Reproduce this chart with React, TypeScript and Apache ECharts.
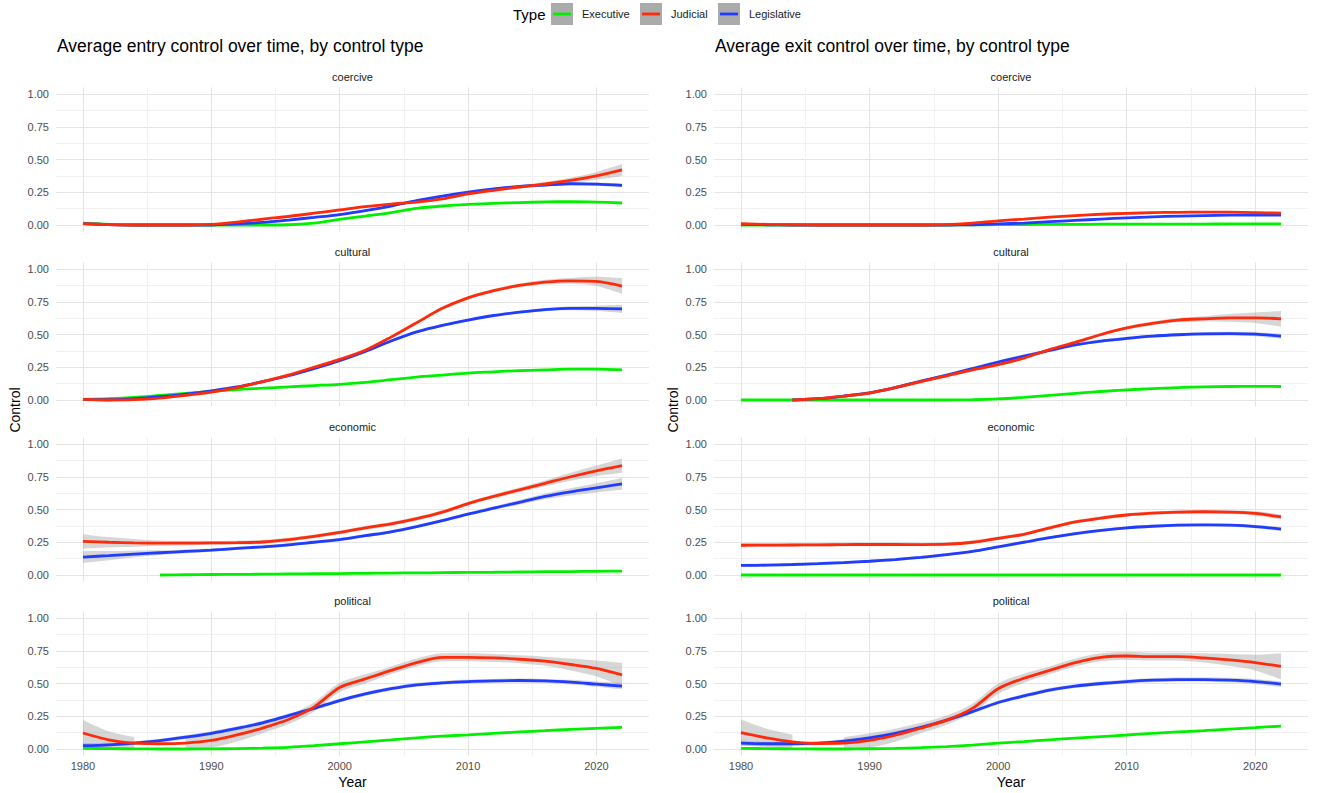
import React, { useEffect, useRef } from "react";
import * as echarts from "echarts";

// ---------------- DATA ----------------
const YEARS = [1980, 1982, 1984, 1986, 1988, 1990, 1992, 1994, 1996, 1998, 2000, 2002, 2004, 2006, 2008, 2010, 2012, 2014, 2016, 2018, 2020, 2022];
const TYPES = ["Executive", "Judicial", "Legislative"];
const FACETS = ["coercive", "cultural", "economic", "political"];
const TITLES = ["Average entry control over time, by control type", "Average exit control over time, by control type"];
const Y_LABELS = [0, 0.25, 0.5, 0.75, 1];
const Y_GRID = [0, 0.125, 0.25, 0.375, 0.5, 0.625, 0.75, 0.875, 1];
const X_LABELS = [1980, 1990, 2000, 2010, 2020];
const X_GRID = [1980, 1985, 1990, 1995, 2000, 2005, 2010, 2015, 2020];

// entry - coercive
const entryCoerciveExecutive = [0.015, 0.005, 0, 0, 0, 0, 0, 0, 0.002, 0.015, 0.043, 0.068, 0.095, 0.127, 0.145, 0.157, 0.165, 0.171, 0.176, 0.178, 0.175, 0.168];
const entryCoerciveJudicial = [0.01, 0.003, 0, 0, 0, 0.005, 0.022, 0.045, 0.065, 0.09, 0.115, 0.14, 0.16, 0.175, 0.2, 0.237, 0.265, 0.29, 0.313, 0.34, 0.375, 0.42];
const entryCoerciveLegislative = [0.01, 0.003, 0, 0, 0, 0, 0.008, 0.02, 0.038, 0.058, 0.08, 0.11, 0.145, 0.186, 0.22, 0.25, 0.275, 0.295, 0.305, 0.315, 0.312, 0.303];
const entryCoerciveExecutiveSe = [0.004, 0.004, 0.004, 0.004, 0.004, 0.004, 0.004, 0.004, 0.004, 0.004, 0.004, 0.004, 0.004, 0.004, 0.004, 0.004, 0.004, 0.004, 0.004, 0.004, 0.005, 0.006];
const entryCoerciveJudicialSe = [0.01, 0.008, 0.008, 0.008, 0.008, 0.008, 0.008, 0.008, 0.008, 0.008, 0.008, 0.008, 0.008, 0.008, 0.008, 0.009, 0.01, 0.012, 0.015, 0.02, 0.03, 0.045];
const entryCoerciveLegislativeSe = [0.01, 0.008, 0.008, 0.008, 0.008, 0.008, 0.008, 0.008, 0.008, 0.008, 0.008, 0.008, 0.008, 0.008, 0.008, 0.008, 0.008, 0.009, 0.01, 0.011, 0.012, 0.015];

// entry - cultural
const entryCulturalExecutive = [0.005, 0.01, 0.02, 0.035, 0.05, 0.065, 0.08, 0.09, 0.1, 0.11, 0.12, 0.135, 0.155, 0.175, 0.19, 0.205, 0.215, 0.225, 0.23, 0.235, 0.235, 0.23];
const entryCulturalJudicial = [0.005, 0, 0.003, 0.015, 0.035, 0.06, 0.095, 0.14, 0.19, 0.25, 0.31, 0.38, 0.48, 0.59, 0.7, 0.78, 0.835, 0.875, 0.9, 0.91, 0.905, 0.87];
const entryCulturalLegislative = [0.005, 0.002, 0.01, 0.025, 0.045, 0.07, 0.1, 0.14, 0.185, 0.24, 0.3, 0.37, 0.45, 0.52, 0.57, 0.61, 0.645, 0.67, 0.69, 0.7, 0.7, 0.695];
const entryCulturalExecutiveSe = [0.005, 0.005, 0.005, 0.005, 0.005, 0.005, 0.005, 0.005, 0.005, 0.005, 0.005, 0.005, 0.005, 0.005, 0.005, 0.005, 0.005, 0.005, 0.005, 0.006, 0.007, 0.009];
const entryCulturalJudicialSe = [0.01, 0.01, 0.01, 0.01, 0.01, 0.01, 0.01, 0.01, 0.01, 0.01, 0.01, 0.01, 0.01, 0.01, 0.012, 0.012, 0.012, 0.015, 0.018, 0.022, 0.035, 0.06];
const entryCulturalLegislativeSe = [0.01, 0.01, 0.01, 0.01, 0.01, 0.01, 0.01, 0.01, 0.01, 0.01, 0.01, 0.01, 0.01, 0.01, 0.01, 0.01, 0.01, 0.01, 0.012, 0.015, 0.02, 0.03];

// entry - economic
const entryEconomicExecutive = [null, null, null, 0, 0.002, 0.004, 0.005, 0.006, 0.008, 0.01, 0.011, 0.013, 0.015, 0.016, 0.018, 0.02, 0.021, 0.023, 0.025, 0.026, 0.028, 0.03];
const entryEconomicJudicial = [0.257, 0.25, 0.245, 0.243, 0.243, 0.245, 0.247, 0.252, 0.27, 0.295, 0.325, 0.36, 0.39, 0.43, 0.48, 0.545, 0.6, 0.65, 0.7, 0.75, 0.795, 0.835];
const entryEconomicLegislative = [0.137, 0.148, 0.16, 0.17, 0.18, 0.19, 0.203, 0.215, 0.23, 0.25, 0.27, 0.3, 0.33, 0.37, 0.415, 0.465, 0.51, 0.555, 0.6, 0.635, 0.665, 0.695];
const entryEconomicExecutiveSe = [0.003, 0.003, 0.003, 0.003, 0.003, 0.003, 0.003, 0.003, 0.003, 0.003, 0.003, 0.003, 0.003, 0.003, 0.003, 0.003, 0.003, 0.003, 0.003, 0.003, 0.003, 0.004];
const entryEconomicJudicialSe = [0.055, 0.04, 0.03, 0.02, 0.018, 0.015, 0.015, 0.015, 0.015, 0.015, 0.015, 0.015, 0.015, 0.015, 0.015, 0.015, 0.015, 0.018, 0.022, 0.03, 0.04, 0.055];
const entryEconomicLegislativeSe = [0.045, 0.035, 0.025, 0.018, 0.014, 0.012, 0.012, 0.012, 0.012, 0.012, 0.012, 0.012, 0.012, 0.012, 0.012, 0.012, 0.014, 0.018, 0.022, 0.028, 0.035, 0.045];

// entry - political
const entryPoliticalExecutive = [0.005, 0.003, 0.001, 0, 0, 0.001, 0.003, 0.007, 0.013, 0.025, 0.04, 0.055, 0.07, 0.085, 0.098, 0.108, 0.12, 0.13, 0.14, 0.15, 0.158, 0.165];
const entryPoliticalJudicial = [0.122, 0.07, 0.045, 0.04, 0.045, 0.065, 0.107, 0.16, 0.225, 0.32, 0.47, 0.535, 0.6, 0.66, 0.7, 0.7, 0.695, 0.685, 0.67, 0.645, 0.615, 0.566];
const entryPoliticalLegislative = [0.025, 0.032, 0.045, 0.064, 0.09, 0.12, 0.158, 0.2, 0.255, 0.31, 0.37, 0.42, 0.46, 0.49, 0.505, 0.515, 0.52, 0.523, 0.52, 0.51, 0.495, 0.48];
const entryPoliticalExecutiveSe = [0.004, 0.004, 0.004, 0.004, 0.004, 0.004, 0.004, 0.004, 0.004, 0.004, 0.004, 0.004, 0.004, 0.004, 0.004, 0.004, 0.004, 0.004, 0.004, 0.005, 0.006, 0.007];
const entryPoliticalJudicialSe = [0.1, 0.065, 0.045, 0.05, 0.045, 0.055, 0.05, 0.04, 0.035, 0.035, 0.035, 0.035, 0.03, 0.03, 0.03, 0.03, 0.03, 0.03, 0.035, 0.045, 0.06, 0.09];
const entryPoliticalLegislativeSe = [0.02, 0.015, 0.015, 0.015, 0.015, 0.015, 0.015, 0.015, 0.015, 0.015, 0.015, 0.015, 0.015, 0.015, 0.015, 0.015, 0.015, 0.015, 0.015, 0.018, 0.02, 0.025];

// exit - coercive
const exitCoerciveExecutive = [0, 0, 0, 0, 0, 0, 0, 0, 0, 0.001, 0.003, 0.004, 0.005, 0.005, 0.006, 0.006, 0.007, 0.007, 0.007, 0.008, 0.008, 0.008];
const exitCoerciveJudicial = [0.01, 0.005, 0.002, 0, 0, 0, 0, 0, 0.003, 0.015, 0.032, 0.045, 0.06, 0.072, 0.082, 0.089, 0.094, 0.097, 0.099, 0.098, 0.095, 0.09];
const exitCoerciveLegislative = [0.005, 0.002, 0, 0, 0, 0, 0, 0, 0, 0.002, 0.008, 0.015, 0.025, 0.035, 0.045, 0.055, 0.062, 0.068, 0.072, 0.075, 0.076, 0.075];
const exitCoerciveExecutiveSe = [0.002, 0.002, 0.002, 0.002, 0.002, 0.002, 0.002, 0.002, 0.002, 0.002, 0.002, 0.002, 0.002, 0.002, 0.002, 0.002, 0.002, 0.002, 0.002, 0.002, 0.002, 0.002];
const exitCoerciveJudicialSe = [0.006, 0.006, 0.006, 0.006, 0.006, 0.006, 0.006, 0.006, 0.006, 0.006, 0.006, 0.006, 0.006, 0.006, 0.006, 0.006, 0.006, 0.006, 0.006, 0.006, 0.007, 0.009];
const exitCoerciveLegislativeSe = [0.005, 0.005, 0.005, 0.005, 0.005, 0.005, 0.005, 0.005, 0.005, 0.005, 0.005, 0.005, 0.005, 0.005, 0.005, 0.005, 0.005, 0.005, 0.005, 0.005, 0.006, 0.007];

// exit - cultural
const exitCulturalExecutive = [0, 0, 0, 0, 0, 0, 0, 0, 0, 0.002, 0.008, 0.02, 0.035, 0.05, 0.065, 0.077, 0.087, 0.095, 0.1, 0.103, 0.104, 0.103];
const exitCulturalJudicial = [null, null, 0, 0.01, 0.03, 0.053, 0.095, 0.14, 0.185, 0.23, 0.27, 0.32, 0.385, 0.44, 0.5, 0.55, 0.585, 0.61, 0.62, 0.627, 0.627, 0.62];
const exitCulturalLegislative = [null, null, 0, 0.01, 0.03, 0.055, 0.095, 0.145, 0.19, 0.24, 0.29, 0.335, 0.378, 0.42, 0.45, 0.47, 0.487, 0.498, 0.505, 0.507, 0.503, 0.487];
const exitCulturalExecutiveSe = [0.003, 0.003, 0.003, 0.003, 0.003, 0.003, 0.003, 0.003, 0.003, 0.003, 0.003, 0.003, 0.003, 0.003, 0.003, 0.003, 0.003, 0.003, 0.003, 0.003, 0.004, 0.005];
const exitCulturalJudicialSe = [0.012, 0.012, 0.012, 0.012, 0.012, 0.012, 0.012, 0.012, 0.012, 0.012, 0.012, 0.012, 0.012, 0.012, 0.012, 0.012, 0.014, 0.016, 0.02, 0.03, 0.04, 0.06];
const exitCulturalLegislativeSe = [0.012, 0.012, 0.012, 0.012, 0.012, 0.012, 0.012, 0.012, 0.012, 0.012, 0.012, 0.012, 0.012, 0.012, 0.012, 0.012, 0.012, 0.012, 0.012, 0.014, 0.016, 0.02];

// exit - economic
const exitEconomicExecutive = [0, 0, 0, 0, 0, 0, 0, 0, 0, 0, 0, 0, 0, 0, 0, 0, 0, 0, 0, 0, 0, 0];
const exitEconomicJudicial = [0.227, 0.228, 0.229, 0.23, 0.232, 0.233, 0.233, 0.232, 0.235, 0.25, 0.28, 0.31, 0.36, 0.405, 0.435, 0.458, 0.472, 0.48, 0.483, 0.48, 0.47, 0.443];
const exitEconomicLegislative = [0.073, 0.075, 0.08, 0.087, 0.095, 0.105, 0.118, 0.135, 0.155, 0.18, 0.215, 0.25, 0.285, 0.315, 0.34, 0.36, 0.372, 0.38, 0.383, 0.38, 0.37, 0.35];
const exitEconomicExecutiveSe = [0.001, 0.001, 0.001, 0.001, 0.001, 0.001, 0.001, 0.001, 0.001, 0.001, 0.001, 0.001, 0.001, 0.001, 0.001, 0.001, 0.001, 0.001, 0.001, 0.001, 0.001, 0.001];
const exitEconomicJudicialSe = [0.016, 0.014, 0.013, 0.013, 0.013, 0.013, 0.013, 0.013, 0.013, 0.013, 0.013, 0.013, 0.013, 0.013, 0.013, 0.013, 0.013, 0.013, 0.013, 0.014, 0.016, 0.02];
const exitEconomicLegislativeSe = [0.012, 0.011, 0.011, 0.011, 0.011, 0.011, 0.011, 0.011, 0.011, 0.011, 0.011, 0.011, 0.011, 0.011, 0.011, 0.011, 0.011, 0.011, 0.011, 0.012, 0.013, 0.016];

// exit - political
const exitPoliticalExecutive = [0.005, 0.003, 0.001, 0, 0, 0.002, 0.005, 0.01, 0.018, 0.03, 0.045, 0.057, 0.07, 0.083, 0.095, 0.107, 0.12, 0.13, 0.14, 0.152, 0.163, 0.175];
const exitPoliticalJudicial = [0.125, 0.085, 0.055, 0.042, 0.045, 0.065, 0.105, 0.16, 0.22, 0.31, 0.46, 0.54, 0.6, 0.66, 0.7, 0.71, 0.705, 0.705, 0.695, 0.68, 0.66, 0.63];
const exitPoliticalLegislative = [0.045, 0.04, 0.04, 0.045, 0.06, 0.085, 0.12, 0.165, 0.22, 0.285, 0.355, 0.405, 0.45, 0.48, 0.5, 0.515, 0.525, 0.53, 0.53, 0.525, 0.515, 0.495];
const exitPoliticalExecutiveSe = [0.004, 0.004, 0.004, 0.004, 0.004, 0.004, 0.004, 0.004, 0.004, 0.004, 0.004, 0.004, 0.004, 0.004, 0.004, 0.004, 0.004, 0.004, 0.004, 0.005, 0.006, 0.007];
const exitPoliticalJudicialSe = [0.1, 0.07, 0.055, 0.055, 0.045, 0.055, 0.05, 0.04, 0.035, 0.035, 0.04, 0.035, 0.03, 0.03, 0.03, 0.03, 0.03, 0.03, 0.035, 0.045, 0.06, 0.1];
const exitPoliticalLegislativeSe = [0.02, 0.015, 0.015, 0.015, 0.015, 0.015, 0.015, 0.015, 0.015, 0.015, 0.015, 0.015, 0.015, 0.015, 0.015, 0.015, 0.015, 0.015, 0.015, 0.018, 0.02, 0.022];

// panels: [side][facet] -> {type: [values, se]}
const PANEL_DATA: any[][] = [
  [
    { Executive: [entryCoerciveExecutive, entryCoerciveExecutiveSe], Judicial: [entryCoerciveJudicial, entryCoerciveJudicialSe], Legislative: [entryCoerciveLegislative, entryCoerciveLegislativeSe] },
    { Executive: [entryCulturalExecutive, entryCulturalExecutiveSe], Judicial: [entryCulturalJudicial, entryCulturalJudicialSe], Legislative: [entryCulturalLegislative, entryCulturalLegislativeSe] },
    { Executive: [entryEconomicExecutive, entryEconomicExecutiveSe], Judicial: [entryEconomicJudicial, entryEconomicJudicialSe], Legislative: [entryEconomicLegislative, entryEconomicLegislativeSe] },
    { Executive: [entryPoliticalExecutive, entryPoliticalExecutiveSe], Judicial: [entryPoliticalJudicial, entryPoliticalJudicialSe], Legislative: [entryPoliticalLegislative, entryPoliticalLegislativeSe] },
  ],
  [
    { Executive: [exitCoerciveExecutive, exitCoerciveExecutiveSe], Judicial: [exitCoerciveJudicial, exitCoerciveJudicialSe], Legislative: [exitCoerciveLegislative, exitCoerciveLegislativeSe] },
    { Executive: [exitCulturalExecutive, exitCulturalExecutiveSe], Judicial: [exitCulturalJudicial, exitCulturalJudicialSe], Legislative: [exitCulturalLegislative, exitCulturalLegislativeSe] },
    { Executive: [exitEconomicExecutive, exitEconomicExecutiveSe], Judicial: [exitEconomicJudicial, exitEconomicJudicialSe], Legislative: [exitEconomicLegislative, exitEconomicLegislativeSe] },
    { Executive: [exitPoliticalExecutive, exitPoliticalExecutiveSe], Judicial: [exitPoliticalJudicial, exitPoliticalJudicialSe], Legislative: [exitPoliticalLegislative, exitPoliticalLegislativeSe] },
  ],
];

// ---------------- STYLE / LAYOUT ----------------
const FONT = "'Liberation Sans', Arial, Helvetica, sans-serif";
const COLORS: Record<string, string> = { Executive: "#00f000", Judicial: "#ff2a0a", Legislative: "#1f3cff" };
const DRAW_ORDER = ["Executive", "Legislative", "Judicial"];
const BAND_FILL = "rgba(153,153,153,0.4)";
const GRID_LEFT = [56, 714];
const GRID_WIDTH = [593, 594];
const GRID_TOP = [87.45, 262.45, 437.45, 611.45];
const GRID_HEIGHT = 144.1;
const X_MIN = 1977.9;
const X_MAX = 2024.1;
const Y_MIN = -0.05;
const Y_MAX = 1.05;

function buildOption() {
  const grid: any[] = [];
  const xAxis: any[] = [];
  const yAxis: any[] = [];
  const series: any[] = [];
  const graphics: any[] = [];

  for (let side = 0; side < 2; side++) {
    for (let f = 0; f < 4; f++) {
      const gi = side * 4 + f;
      grid.push({ left: GRID_LEFT[side], top: GRID_TOP[f], width: GRID_WIDTH[side], height: GRID_HEIGHT, containLabel: false });
      xAxis.push({
        type: "value",
        gridIndex: gi,
        min: X_MIN,
        max: X_MAX,
        axisLine: { show: false },
        axisTick: { show: false, customValues: X_GRID },
        axisLabel: {
          show: f === 3,
          customValues: X_LABELS,
          color: "#4d4d4d",
          fontSize: 11,
          fontFamily: FONT,
          margin: 5,
          formatter: (v: number) => String(Math.round(v)),
        },
        splitLine: { show: true, lineStyle: { color: ["#e4e4e4", "#f1f1f1"], width: 1 } },
      });
      yAxis.push({
        type: "value",
        gridIndex: gi,
        min: Y_MIN,
        max: Y_MAX,
        axisLine: { show: false },
        axisTick: { show: false, customValues: Y_GRID },
        axisLabel: {
          show: true,
          customValues: Y_LABELS,
          color: "#4d4d4d",
          fontSize: 11,
          fontFamily: FONT,
          margin: 7,
          formatter: (v: number) => v.toFixed(2),
        },
        splitLine: { show: true, lineStyle: { color: ["#e4e4e4", "#f1f1f1"], width: 1 } },
      });

      const panel = PANEL_DATA[side][f];
      DRAW_ORDER.forEach((t) => {
        const [vals, se] = panel[t] as [(number | null)[], number[]];
        const ok = (i: number) => vals[i] != null && (vals[i] as number) - se[i] >= 0;
        // value first, year second: stacking then accumulates on the value (y) dimension
        const lower = YEARS.map((y, i) => [ok(i) ? (vals[i] as number) - se[i] : null, y]);
        const width = YEARS.map((y, i) => [ok(i) ? 2 * se[i] : null, y]);
        const stack = `band-${gi}-${t}`;
        series.push({
          type: "line",
          xAxisIndex: gi,
          yAxisIndex: gi,
          data: lower,
          encode: { x: 1, y: 0 },
          stack,
          symbol: "none",
          smooth: 0.3,
          silent: true,
          lineStyle: { width: 0, opacity: 0 },
        });
        series.push({
          type: "line",
          xAxisIndex: gi,
          yAxisIndex: gi,
          data: width,
          encode: { x: 1, y: 0 },
          stack,
          symbol: "none",
          smooth: 0.3,
          silent: true,
          lineStyle: { width: 0, opacity: 0 },
          areaStyle: { color: BAND_FILL, opacity: 1 },
        });
        series.push({
          type: "line",
          name: t,
          xAxisIndex: gi,
          yAxisIndex: gi,
          data: YEARS.map((y, i) => [y, vals[i]]),
          symbol: "none",
          smooth: 0.3,
          silent: true,
          lineStyle: { color: COLORS[t], width: 2.8 },
        });
      });

      // strip label
      graphics.push({
        type: "text",
        x: GRID_LEFT[side] + GRID_WIDTH[side] / 2,
        y: GRID_TOP[f] - 10.5,
        style: { text: FACETS[f], fill: "#1a1a1a", font: `11px ${FONT}`, align: "center", verticalAlign: "middle" },
      });
    }

    // y-axis title
    graphics.push({
      type: "text",
      x: side === 0 ? 15 : 673,
      y: 410,
      rotation: Math.PI / 2,
      style: { text: "Control", fill: "#000", font: `14px ${FONT}`, align: "center", verticalAlign: "middle" },
    });
    // x-axis title
    graphics.push({
      type: "text",
      x: GRID_LEFT[side] + GRID_WIDTH[side] / 2,
      y: 782,
      style: { text: "Year", fill: "#000", font: `14px ${FONT}`, align: "center", verticalAlign: "middle" },
    });
  }

  // legend
  graphics.push({
    type: "text",
    x: 513,
    y: 14,
    style: { text: "Type", fill: "#000", font: `15px ${FONT}`, align: "left", verticalAlign: "middle" },
  });
  const keyX = [551, 640, 718];
  const textX = [582, 671, 749];
  TYPES.forEach((t, i) => {
    graphics.push({ type: "rect", shape: { x: keyX[i], y: 3, width: 22, height: 22 }, style: { fill: "#ababab" } });
    graphics.push({ type: "line", shape: { x1: keyX[i] + 2, y1: 14, x2: keyX[i] + 20, y2: 14 }, style: { stroke: COLORS[t], lineWidth: 2.8 } });
    graphics.push({
      type: "text",
      x: textX[i],
      y: 14,
      style: { text: t, fill: "#1a1a1a", font: `11px ${FONT}`, align: "left", verticalAlign: "middle" },
    });
  });

  return {
    animation: false,
    backgroundColor: "#ffffff",
    textStyle: { fontFamily: FONT },
    title: TITLES.map((text, side) => ({
      text,
      left: GRID_LEFT[side] + 1,
      top: 37,
      padding: 0,
      textStyle: { fontSize: 17.5, fontWeight: "normal", color: "#000", fontFamily: FONT },
    })),
    grid,
    xAxis,
    yAxis,
    series,
    graphic: graphics,
  };
}

export default function App() {
  const ref = useRef<HTMLDivElement>(null);
  useEffect(() => {
    const chart = echarts.init(ref.current!, null, { renderer: "svg" });
    chart.setOption(buildOption() as any);
    return () => chart.dispose();
  }, []);
  return (
    <div
      ref={ref}
      style={{ position: "absolute", left: 0, top: 0, width: 1319, height: 793, background: "#fff" }}
    />
  );
}
